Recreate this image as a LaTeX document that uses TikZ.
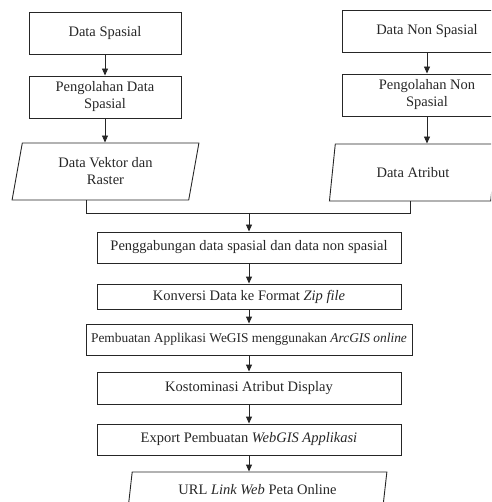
\documentclass[tikz,border=0pt]{standalone}
\usepackage{fontspec}
\setmainfont{Liberation Serif}
\usetikzlibrary{shapes.geometric,arrows.meta}
\begin{document}
\begin{tikzpicture}[x=1pt,y=-1pt,
  font=\fontsize{14.5}{17}\selectfont,
  every node/.style={text=black!85},
  box/.style={draw=black!85,line width=0.9pt,rectangle,inner sep=0pt,align=center},
  iobox/.style={draw=black!85,line width=0.9pt,trapezium,trapezium stretches=true,inner sep=0pt,align=center},
  conn/.style={draw=black!85,line width=0.9pt},
  arr/.style={conn,-{Triangle[length=7pt,width=6pt]}}]
\useasboundingbox (0,0) rectangle (491,502);
\clip (0,0) rectangle (491,502);
% left column
\node[box,minimum width=152pt,minimum height=42pt] (ds) at (105,33) {Data Spasial};
\node[box,minimum width=152pt,minimum height=42pt] (pds) at (105,97) {Pengolahan Data\\Spasial};
\node[iobox,trapezium left angle=78,trapezium right angle=102,minimum width=187pt,minimum height=57pt] (vk) at (105.5,171.5) {Data Vektor dan\\Raster};
% right column
\node[box,minimum width=170pt,minimum height=42pt] (dns) at (427,31) {Data Non Spasial};
\node[box,minimum width=170pt,minimum height=42pt] (pns) at (427,95) {Pengolahan Non\\Spasial};
\node[iobox,trapezium left angle=75,trapezium right angle=105,minimum width=168pt,minimum height=57pt] (at) at (413,172.5) {Data Atribut};
% main column
\node[box,minimum width=304pt,minimum height=31pt] (pg) at (249,247.5) {Penggabungan data spasial dan data non spasial};
\node[box,minimum width=304pt,minimum height=25pt] (kv) at (249,296.5) {Konversi Data ke Format \textit{Zip file}};
\node[box,minimum width=326pt,minimum height=31pt,font=\fontsize{13.4}{16}\selectfont] (pb) at (249,339.5) {Pembuatan Applikasi WeGIS menggunakan \textit{ArcGIS online}};
\node[box,minimum width=304pt,minimum height=32pt] (ks) at (249,388) {Kostominasi Atribut Display};
\node[box,minimum width=304pt,minimum height=31pt] (ex) at (249,439.5) {Export Pembuatan \textit{WebGIS Applikasi}};
\node[iobox,trapezium left angle=76,trapezium right angle=104,minimum width=259pt,minimum height=36pt] (url) at (257.5,490) {URL \textit{Link Web} Peta Online};
% connectors
\draw[arr] (ds) -- (pds);
\draw[arr] (pds.south) -- (pds.south |- vk.north);
\draw[arr] (dns) -- (pns);
\draw[arr] (pns.south) -- (pns.south |- at.north);
\coordinate (ml) at (86,213);
\coordinate (mr) at (410,213);
\draw[conn] (vk.south -| ml) -- (ml) -- (mr) -- (at.south -| mr);
\draw[arr] (pg.north |- ml) -- (pg.north);
\draw[arr] (pg) -- (kv);
\draw[arr] (kv) -- (pb);
\draw[arr] (pb) -- (ks);
\draw[arr] (ks) -- (ex);
\draw[arr] (ex.south) -- (ex.south |- url.north);
\end{tikzpicture}
\end{document}
